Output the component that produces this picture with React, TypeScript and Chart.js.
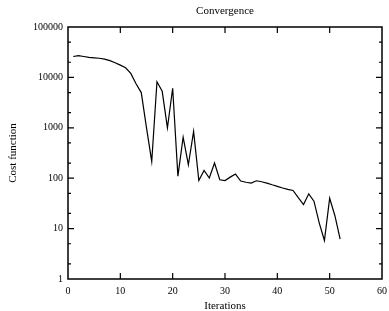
import React, { useEffect, useRef } from "react";
import { Chart, registerables } from "chart.js";

Chart.register(...registerables);

const iterations = [
  1, 2, 3, 4, 5, 6, 7, 8, 9, 10, 11, 12, 13, 14, 15, 16, 17, 18, 19, 20, 21, 22, 23, 24, 25, 26,
  27, 28, 29, 30, 31, 32, 33, 34, 35, 36, 37, 38, 39, 40, 41, 42, 43, 44, 45, 46, 47, 48, 49, 50,
  51, 52,
];
const costValues = [
  26000, 27000, 26000, 25000, 24500, 24000, 23000, 21500, 19500, 17500, 15500, 12000, 7500, 5000,
  1000, 215, 8200, 5300, 1000, 6100, 110, 650, 185, 850, 90, 143, 101, 200, 93, 90, 105, 121, 88,
  83, 80, 89, 85, 80, 74, 69, 64, 60, 57, 41, 30, 49, 35, 13, 5.8, 40, 18, 6.2,
];
const xTickValues = [0, 10, 20, 30, 40, 50, 60];
const yTickValues = [1, 10, 100, 1000, 10000, 100000];
const yMinorTickValues = [2, 5, 20, 50, 200, 500, 2000, 5000, 20000, 50000];
const titleText = "Convergence";
const xTitleText = "Iterations";
const yTitleText = "Cost function";

const FONT = "'Liberation Serif', 'DejaVu Serif', serif";

const framePlugin = {
  id: "frame",
  afterDraw(chart: any) {
    const ctx = chart.ctx;
    const { left, right, top, bottom } = chart.chartArea;
    const xs = chart.scales.x;
    const ys = chart.scales.y;
    ctx.save();
    ctx.strokeStyle = "#000";
    ctx.lineWidth = 1.5;
    ctx.strokeRect(left, top, right - left, bottom - top);
    ctx.lineWidth = 1.2;
    ctx.beginPath();
    const major = 6;
    const minor = 3;
    for (const v of xTickValues) {
      const px = xs.getPixelForValue(v);
      if (px <= left + 1 || px >= right - 1) continue;
      ctx.moveTo(px, bottom);
      ctx.lineTo(px, bottom - major);
      ctx.moveTo(px, top);
      ctx.lineTo(px, top + major);
    }
    for (const v of yTickValues) {
      const py = ys.getPixelForValue(v);
      if (py <= top + 1 || py >= bottom - 1) continue;
      ctx.moveTo(left, py);
      ctx.lineTo(left + major, py);
      ctx.moveTo(right, py);
      ctx.lineTo(right - major, py);
    }
    for (const v of yMinorTickValues) {
      const py = ys.getPixelForValue(v);
      ctx.moveTo(left, py);
      ctx.lineTo(left + minor, py);
      ctx.moveTo(right, py);
      ctx.lineTo(right - minor, py);
    }
    ctx.stroke();

    ctx.fillStyle = "#000";
    ctx.textAlign = "center";
    ctx.textBaseline = "middle";
    ctx.font = `11px ${FONT}`;
    const cx = (left + right) / 2;
    const cy = (top + bottom) / 2;
    ctx.fillText(titleText, cx, 11);
    ctx.fillText(xTitleText, cx, 306);
    ctx.translate(13.5, cy);
    ctx.rotate(-Math.PI / 2);
    ctx.fillText(yTitleText, 0, 0);
    ctx.restore();
  },
};

export default function App() {
  const canvasRef = useRef<HTMLCanvasElement | null>(null);

  useEffect(() => {
    document.body.style.margin = "0";
    const canvas = canvasRef.current;
    if (!canvas) return;
    const chart = new Chart(canvas, {
      type: "line",
      data: {
        datasets: [
          {
            data: iterations.map((it, i) => ({ x: it, y: costValues[i] })),
            borderColor: "#000",
            borderWidth: 1.2,
            pointRadius: 0,
            fill: false,
            tension: 0,
          },
        ],
      },
      options: {
        animation: false,
        responsive: false,
        maintainAspectRatio: false,
        layout: { padding: { left: 0, right: 7, top: 27, bottom: 0 } },
        plugins: {
          legend: { display: false },
          title: { display: false },
          tooltip: { enabled: false },
        },
        scales: {
          x: {
            type: "linear",
            min: 0,
            max: 60,
            grid: { display: false, drawTicks: false },
            border: { display: false },
            afterBuildTicks: (s: any) => {
              s.ticks = xTickValues.map((v) => ({ value: v }));
            },
            afterFit: (s: any) => {
              s.height = 32;
              s.paddingLeft = 0;
              s.paddingRight = 0;
            },
            ticks: {
              color: "#000",
              font: { family: FONT, size: 10 },
              padding: 6,
              maxRotation: 0,
              autoSkip: false,
            },
          },
          y: {
            type: "logarithmic",
            min: 1,
            max: 100000,
            grid: { display: false, drawTicks: false },
            border: { display: false },
            afterBuildTicks: (s: any) => {
              s.ticks = yTickValues.map((v) => ({ value: v }));
            },
            afterFit: (s: any) => {
              s.width = 68;
              s.paddingTop = 0;
              s.paddingBottom = 0;
            },
            ticks: {
              color: "#000",
              font: { family: FONT, size: 10 },
              padding: 5,
              autoSkip: false,
              callback: (v: any) => String(v),
            },
          },
        },
      },
      plugins: [framePlugin],
    });
    return () => chart.destroy();
  }, []);

  return (
    <div style={{ width: 389, height: 311 }}>
      <canvas ref={canvasRef} width={389} height={311} style={{ display: "block" }} />
    </div>
  );
}
